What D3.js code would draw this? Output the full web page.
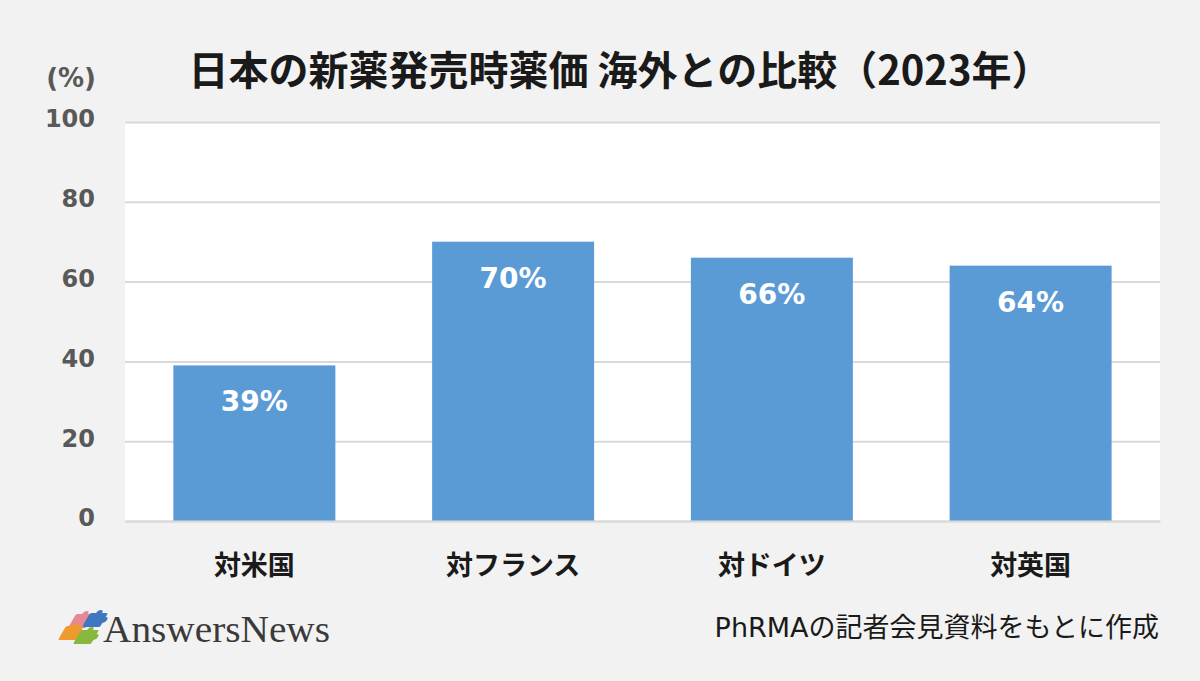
<!DOCTYPE html>
<html>
<head>
<meta charset="utf-8">
<script src="https://cdn.jsdelivr.net/npm/d3@7"></script>
<style>
  html, body { margin: 0; padding: 0; background: #f2f2f2; }
  svg { display: block; }
  text { font-family: "DejaVu Sans", "Noto Sans CJK JP", sans-serif; }
</style>
</head>
<body>
<div id="chart"></div>
<script>
const categories = ["対米国", "対フランス", "対ドイツ", "対英国"];
const values = [39, 70, 66, 64];
const yTicks = [0, 20, 40, 60, 80, 100];
const logoColors = ["#e58a94", "#3f78c0", "#ee9a2e", "#86b83e"];

const WIDTH = 1200;
const HEIGHT = 681;
const MARGIN = { TOP: 122, BOTTOM: 160, LEFT: 125, RIGHT: 40 };
const INNER_W = WIDTH - MARGIN.LEFT - MARGIN.RIGHT;
const INNER_H = HEIGHT - MARGIN.TOP - MARGIN.BOTTOM;

const svg = d3.select("#chart").append("svg")
  .attr("width", WIDTH)
  .attr("height", HEIGHT);

const g = svg.append("g")
  .attr("transform", `translate(${MARGIN.LEFT}, ${MARGIN.TOP})`);

const x = d3.scaleBand().domain(categories).range([0, INNER_W])
  .paddingInner(0.374).paddingOuter(0.187);
const y = d3.scaleLinear().domain([0, 100]).range([INNER_H, 0]);

// PLOT BACKGROUND
g.append("rect")
  .attr("width", INNER_W)
  .attr("height", INNER_H)
  .attr("fill", "#ffffff");

// GRID + Y AXIS
const yAxis = g.append("g")
  .call(d3.axisLeft(y).tickValues(yTicks).tickSize(-INNER_W).tickPadding(30));
yAxis.select(".domain").remove();
yAxis.selectAll("line").attr("stroke", "#d9d9d9").attr("stroke-width", 2);
yAxis.selectAll("text")
  .attr("fill", "#595959")
  .attr("font-size", 24)
  .attr("font-weight", "bold")
  .style("font-family", '"DejaVu Sans", sans-serif')
  .attr("dy", "0.2em");

// BARS
g.selectAll(".bar")
  .data(values)
  .enter()
  .append("rect")
  .attr("class", "bar")
  .attr("x", (d, i) => x(categories[i]))
  .attr("y", d => y(d))
  .attr("width", x.bandwidth())
  .attr("height", d => INNER_H - y(d))
  .attr("fill", "#5b9bd5");

// BAR LABELS
g.selectAll(".barLabel")
  .data(values)
  .enter()
  .append("text")
  .attr("class", "barLabel")
  .attr("x", (d, i) => x(categories[i]) + x.bandwidth() / 2)
  .attr("y", d => y(d) + 46)
  .attr("text-anchor", "middle")
  .attr("fill", "#ffffff")
  .attr("font-size", 28)
  .attr("font-weight", "bold")
  .style("font-family", '"DejaVu Sans", sans-serif')
  .text(d => d + "%");

// CATEGORY LABELS
const xAxis = g.append("g")
  .attr("transform", `translate(0, ${INNER_H})`)
  .call(d3.axisBottom(x).tickSize(0).tickPadding(35));
xAxis.select(".domain").attr("stroke", "#d9d9d9").attr("stroke-width", 2);
xAxis.selectAll("text")
  .attr("fill", "#1a1a1a")
  .attr("font-size", 27)
  .attr("font-weight", "bold")
  .style("font-family", '"Noto Sans CJK JP", sans-serif');

// TITLE
svg.append("text")
  .attr("x", 620)
  .attr("y", 85)
  .attr("text-anchor", "middle")
  .attr("fill", "#1a1a1a")
  .attr("font-size", 40)
  .attr("font-weight", "bold")
  .style("font-family", '"Noto Sans CJK JP", sans-serif')
  .text("日本の新薬発売時薬価 海外との比較（2023年）");

// UNIT
svg.append("text")
  .attr("x", 96)
  .attr("y", 87)
  .attr("text-anchor", "end")
  .attr("fill", "#595959")
  .attr("font-size", 26)
  .attr("font-weight", "bold")
  .text("(%)");

// SOURCE
svg.append("text")
  .attr("x", 1159)
  .attr("y", 637)
  .attr("text-anchor", "end")
  .attr("fill", "#1a1a1a")
  .attr("font-size", 27)
  .text("PhRMAの記者会見資料をもとに作成");

// LOGO
const pieces = svg.append("g")
  .selectAll("g")
  .data(logoColors)
  .enter()
  .append("g")
  .attr("transform", (d, i) => {
    const cx = [81, 95, 71, 86][i];
    const cy = [621, 620, 633, 637][i];
    return `translate(${cx}, ${cy}) skewX(-30)`;
  })
  .attr("fill", d => d);
pieces.append("rect")
  .attr("x", -9)
  .attr("y", -7)
  .attr("width", 18)
  .attr("height", 14)
  .attr("rx", 1.5);
pieces.append("circle").attr("cx", 9).attr("cy", 0).attr("r", 3);
pieces.append("circle").attr("cx", 0).attr("cy", -7).attr("r", 3);

svg.append("text")
  .attr("x", 103)
  .attr("y", 642)
  .attr("fill", "#3a3a3a")
  .attr("font-size", 38)
  .attr("textLength", 227)
  .attr("lengthAdjust", "spacingAndGlyphs")
  .style("font-family", '"Liberation Serif", serif')
  .text("AnswersNews");
</script>
</body>
</html>
